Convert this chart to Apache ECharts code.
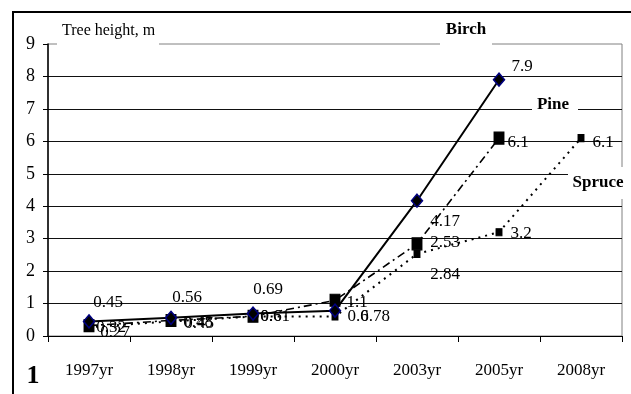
<!DOCTYPE html>
<html>
<head>
<meta charset="utf-8">
<script src="https://cdn.jsdelivr.net/npm/echarts@6/dist/echarts.min.js"></script>
<style>
  html, body { margin: 0; padding: 0; background: #fff; }
  #chart { width: 631px; height: 394px; }
</style>
</head>
<body>
<div id="chart"></div>
<script>
// Tree height growth by year for three species
const years = ['1997yr', '1998yr', '1999yr', '2000yr', '2003yr', '2005yr', '2008yr'];
const birch  = [0.45, 0.56, 0.69, 0.78, 4.17, 7.9, null];
const pine   = [0.32, 0.48, 0.61, 1.1, 2.84, 6.1, null];
const spruce = [0.27, 0.45, 0.6, 0.6, 2.53, 3.2, 6.1];
const yTicks = [0, 1, 2, 3, 4, 5, 6, 7, 8, 9];

const FONT = 'Liberation Serif';

// where each value label sits relative to its point (pixels)
const labelShift = {
  birch:  [[19, -19], [16, -20], [15, -24], [40, 6], [28, 21], [23, -13], null],
  pine:   [[22, 2], [27, 2], [22, 0], [22, 2], [28, 31], [19, 4], null],
  spruce: [[26, 5], [28, 2], [18, 0], [23, 0], [28, -11], [22, 1], [22, 4]]
};

function withLabels(values, shifts) {
  return values.map((v, i) => {
    if (v === null) return null;
    const s = shifts[i] || [0, 0];
    return { value: v, label: { offset: s } };
  });
}

const valueLabel = {
  show: true,
  position: 'inside',
  align: 'center',
  verticalAlign: 'middle',
  color: '#000',
  fontFamily: FONT,
  fontSize: 17,
  formatter: p => String(p.value)
};

const chart = echarts.init(document.getElementById('chart'), null, { renderer: 'canvas' });

chart.setOption({
  animation: false,
  backgroundColor: '#fff',
  grid: {
    left: 48, right: 9, top: 44, bottom: 58,
    show: true, borderColor: '#808080', borderWidth: 1,
    containLabel: false
  },
  xAxis: {
    type: 'category',
    data: years,
    boundaryGap: true,
    axisLine: { lineStyle: { color: '#000', width: 1 } },
    axisTick: { show: true, length: 6, interval: 0, lineStyle: { color: '#000' } },
    axisLabel: { color: '#000', fontFamily: FONT, fontSize: 17, margin: 26, interval: 0 },
    splitLine: { show: false }
  },
  yAxis: {
    type: 'value',
    min: yTicks[0],
    max: yTicks[yTicks.length - 1],
    interval: 1,
    axisLine: { show: true, lineStyle: { color: '#000', width: 1.5 } },
    axisTick: { show: true, length: 5, lineStyle: { color: '#000' } },
    axisLabel: { color: '#000', fontFamily: FONT, fontSize: 18, margin: 13 },
    splitLine: { show: true, showMaxLine: false, lineStyle: { color: '#111', width: 1 } }
  },
  series: [
    {
      name: 'Spruce',
      type: 'line',
      data: withLabels(spruce, labelShift.spruce),
      connectNulls: false,
      symbol: 'rect',
      symbolSize: [6, 7],
      itemStyle: { color: '#000', borderColor: '#000' },
      lineStyle: { color: '#000', width: 2, type: [2, 5] },
      label: valueLabel,
      z: 3
    },
    {
      name: 'Pine',
      type: 'line',
      data: withLabels(pine, labelShift.pine),
      symbol: 'rect',
      symbolSize: [10, 12],
      itemStyle: { color: '#000', borderColor: '#000' },
      lineStyle: { color: '#000', width: 1.6, type: [8, 4, 2, 4] },
      label: valueLabel,
      z: 4
    },
    {
      name: 'Birch',
      type: 'line',
      data: withLabels(birch, labelShift.birch),
      symbol: 'diamond',
      symbolSize: [11, 13],
      itemStyle: { color: '#000', borderColor: '#000080', borderWidth: 1.5 },
      lineStyle: { color: '#000', width: 2 },
      label: valueLabel,
      z: 5
    }
  ],
  graphic: [
    // outer frame of the figure
    {
      type: 'rect', z: 200, silent: true,
      shape: { x: 13, y: 12, width: 700, height: 500 },
      style: { fill: 'none', stroke: '#000', lineWidth: 2 }
    },
    // axis caption
    { type: 'rect', z: 100, shape: { x: 57, y: 18, width: 102, height: 29 }, style: { fill: '#fff' } },
    {
      type: 'text', z: 101, x: 62, y: 31,
      style: { text: 'Tree height, m', fill: '#000', font: '16px "' + FONT + '"', textVerticalAlign: 'middle' }
    },
    // series names
    { type: 'rect', z: 100, shape: { x: 440, y: 18, width: 52, height: 29 }, style: { fill: '#fff' } },
    {
      type: 'text', z: 101, x: 466, y: 30,
      style: { text: 'Birch', fill: '#000', font: 'bold 17px "' + FONT + '"', textAlign: 'center', textVerticalAlign: 'middle' }
    },
    { type: 'rect', z: 100, shape: { x: 532, y: 95, width: 46, height: 20 }, style: { fill: '#fff' } },
    {
      type: 'text', z: 101, x: 553, y: 105,
      style: { text: 'Pine', fill: '#000', font: 'bold 17px "' + FONT + '"', textAlign: 'center', textVerticalAlign: 'middle' }
    },
    { type: 'rect', z: 100, shape: { x: 568, y: 167, width: 66, height: 32 }, style: { fill: '#fff' } },
    {
      type: 'text', z: 101, x: 598, y: 183,
      style: { text: 'Spruce', fill: '#000', font: 'bold 17px "' + FONT + '"', textAlign: 'center', textVerticalAlign: 'middle' }
    },
    // figure number
    {
      type: 'text', z: 101, x: 33, y: 376,
      style: { text: '1', fill: '#000', font: 'bold 26px "' + FONT + '"', textAlign: 'center', textVerticalAlign: 'middle' }
    }
  ]
});
</script>
</body>
</html>
